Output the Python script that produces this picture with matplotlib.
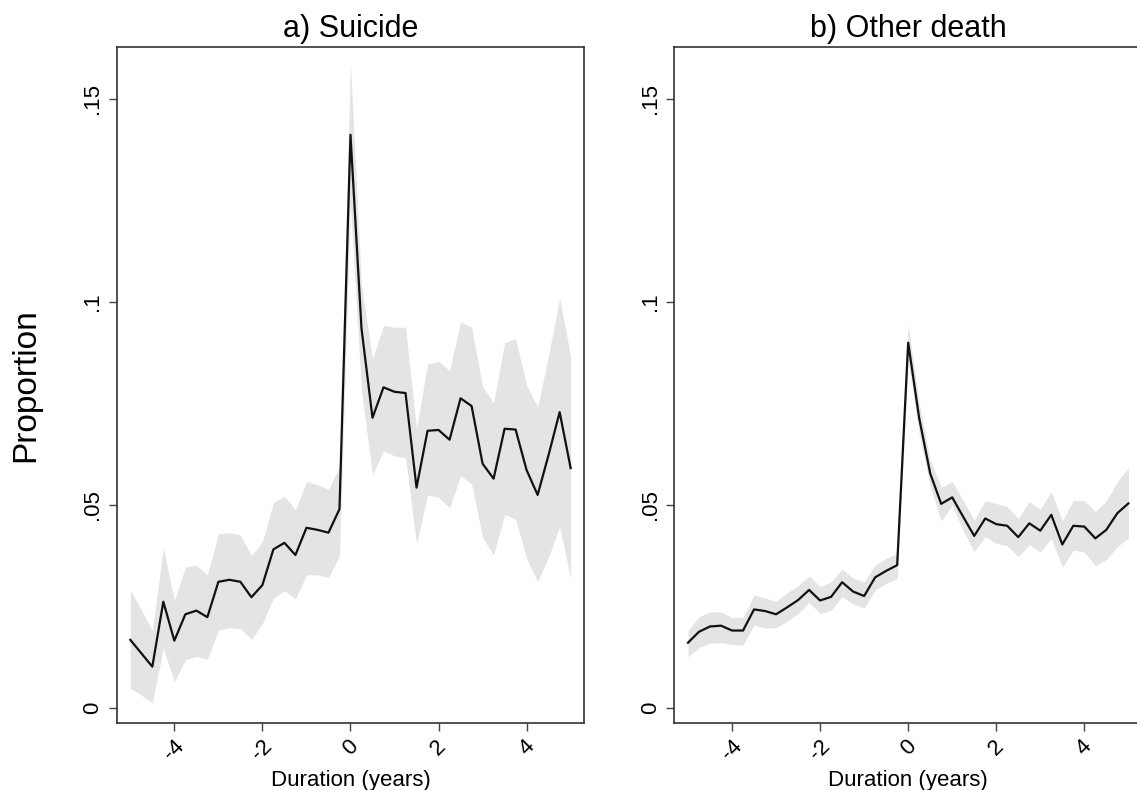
import matplotlib
matplotlib.use("Agg")
import matplotlib.pyplot as plt

plt.rcParams["font.family"] = ["Liberation Sans", "DejaVu Sans"]

duration = [-5.0, -4.75, -4.5, -4.25, -4.0, -3.75, -3.5, -3.25, -3.0, -2.75,
            -2.5, -2.25, -2.0, -1.75, -1.5, -1.25, -1.0, -0.75, -0.5, -0.25,
            0.0, 0.25, 0.5, 0.75, 1.0, 1.25, 1.5, 1.75, 2.0, 2.25,
            2.5, 2.75, 3.0, 3.25, 3.5, 3.75, 4.0, 4.25, 4.5, 4.75, 5.0]

suicide_est = [0.0167, 0.0134, 0.0101, 0.0261, 0.0165, 0.0230, 0.0239, 0.0223, 0.0310, 0.0315,
               0.0310, 0.0272, 0.0302, 0.0390, 0.0406, 0.0376, 0.0443, 0.0438, 0.0431, 0.0489,
               0.1411, 0.0934, 0.0714, 0.0789, 0.0778, 0.0775, 0.0542, 0.0682, 0.0684, 0.0660,
               0.0762, 0.0743, 0.0601, 0.0564, 0.0687, 0.0685, 0.0585, 0.0524, 0.0623, 0.0728, 0.0590]
suicide_hi = [0.0290, 0.0241, 0.0190, 0.0393, 0.0264, 0.0346, 0.0351, 0.0327, 0.0428, 0.0431,
              0.0425, 0.0374, 0.0409, 0.0505, 0.0521, 0.0487, 0.0557, 0.0549, 0.0538, 0.0594,
              0.1588, 0.1040, 0.0859, 0.0941, 0.0937, 0.0937, 0.0687, 0.0846, 0.0853, 0.0830,
              0.0950, 0.0937, 0.0791, 0.0751, 0.0899, 0.0909, 0.0794, 0.0741, 0.0869, 0.1009, 0.0864]
suicide_lo = [0.0048, 0.0031, 0.0012, 0.0146, 0.0064, 0.0118, 0.0126, 0.0119, 0.0191, 0.0197,
              0.0195, 0.0168, 0.0207, 0.0269, 0.0288, 0.0268, 0.0327, 0.0327, 0.0321, 0.0374,
              0.1240, 0.0780, 0.0574, 0.0633, 0.0620, 0.0615, 0.0403, 0.0524, 0.0518, 0.0492,
              0.0571, 0.0551, 0.0419, 0.0376, 0.0476, 0.0464, 0.0368, 0.0310, 0.0371, 0.0446, 0.0317]

other_est = [0.0160, 0.0187, 0.0200, 0.0202, 0.0190, 0.0190, 0.0242, 0.0238, 0.0230, 0.0247,
             0.0265, 0.0290, 0.0264, 0.0273, 0.0309, 0.0286, 0.0275, 0.0321, 0.0337, 0.0351,
             0.0899, 0.0713, 0.0577, 0.0502, 0.0518, 0.0470, 0.0423, 0.0466, 0.0452, 0.0448,
             0.0420, 0.0454, 0.0436, 0.0475, 0.0402, 0.0448, 0.0446, 0.0417, 0.0438, 0.0479, 0.0503]
other_hi = [0.0190, 0.0224, 0.0236, 0.0236, 0.0222, 0.0222, 0.0278, 0.0270, 0.0262, 0.0283,
            0.0300, 0.0325, 0.0298, 0.0310, 0.0341, 0.0319, 0.0310, 0.0351, 0.0368, 0.0380,
            0.0945, 0.0750, 0.0610, 0.0543, 0.0557, 0.0510, 0.0462, 0.0510, 0.0503, 0.0495,
            0.0466, 0.0508, 0.0489, 0.0532, 0.0460, 0.0510, 0.0510, 0.0483, 0.0509, 0.0557, 0.0590]
other_lo = [0.0125, 0.0148, 0.0159, 0.0160, 0.0155, 0.0155, 0.0204, 0.0196, 0.0197, 0.0213,
            0.0232, 0.0259, 0.0232, 0.0240, 0.0274, 0.0255, 0.0245, 0.0290, 0.0306, 0.0318,
            0.0855, 0.0675, 0.0545, 0.0460, 0.0498, 0.0436, 0.0384, 0.0421, 0.0405, 0.0399,
            0.0372, 0.0401, 0.0383, 0.0417, 0.0346, 0.0388, 0.0383, 0.0350, 0.0365, 0.0397, 0.0417]

titles = ["a) Suicide", "b) Other death"]
x_ticks = [-4, -2, 0, 2, 4]
x_ticklabels = ["-4", "-2", "0", "2", "4"]
y_ticks = [0, 0.05, 0.1, 0.15]
y_ticklabels = ["0", ".05", ".1", ".15"]


def draw_panel(ax, est, lo, hi, title):
    ax.fill_between(duration, lo, hi, color="#e4e4e4", linewidth=0)
    ax.plot(duration, est, color="#111111", linewidth=1.6)
    ax.set_xlim(-5.31, 5.31)
    ax.set_ylim(-0.0037, 0.1628)
    ax.set_xticks(x_ticks)
    ax.set_xticklabels(x_ticklabels, rotation=45, ha="center", fontsize=16)
    ax.set_yticks(y_ticks)
    ax.set_yticklabels(y_ticklabels, rotation=90, va="center", fontsize=16)
    ax.tick_params(length=6, width=1, color="#444444", direction="out")
    for s in ax.spines.values():
        s.set_color("#333333")
        s.set_linewidth(1.2)
    ax.set_title(title, fontsize=22, pad=7)
    ax.set_xlabel("Duration (years)", fontsize=16, labelpad=4)


def main():
    fig = plt.figure(figsize=(11.37, 7.9), dpi=100)
    ax_a = fig.add_axes([0.1026, 0.0852, 0.4113, 0.8557])
    ax_b = fig.add_axes([0.5931, 0.0852, 0.4113, 0.8557])

    draw_panel(ax_a, suicide_est, suicide_lo, suicide_hi, titles[0])
    draw_panel(ax_b, other_est, other_lo, other_hi, titles[1])
    ax_a.set_ylabel("Proportion", fontsize=24, labelpad=30)

    fig.savefig("out.png", dpi=100)


if __name__ == "__main__":
    main()
